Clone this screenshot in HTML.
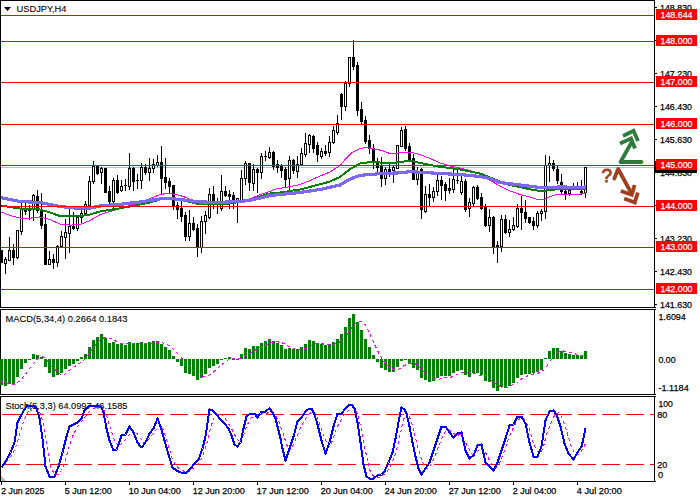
<!DOCTYPE html>
<html><head><meta charset="utf-8"><title>USDJPY,H4</title>
<style>
html,body{margin:0;padding:0;background:#fff;}
body{width:700px;height:500px;overflow:hidden;}
svg{display:block;}
text{font-family:"Liberation Sans",sans-serif;font-size:9.8px;fill:#000;stroke:#000;stroke-width:0.25px;}
.w{fill:#fff;stroke:#fff;}
</style></head><body>
<svg width="700" height="500" viewBox="0 0 700 500">
<rect width="700" height="500" fill="#fff"/>
<g shape-rendering="crispEdges">
<rect x="1" y="167" width="653" height="1" fill="#c0c0c0"/><g id="candles"><rect x="1" y="250" width="1" height="13" fill="#000"/><rect x="0" y="250" width="3" height="13" fill="#000"/><rect x="5" y="257" width="1" height="17" fill="#000"/><rect x="4" y="259" width="3" height="5" fill="#000"/><rect x="5" y="260" width="1" height="3" fill="#fff"/><rect x="9" y="237" width="1" height="24" fill="#000"/><rect x="8" y="250" width="3" height="11" fill="#000"/><rect x="9" y="251" width="1" height="9" fill="#fff"/><rect x="13" y="244" width="1" height="21" fill="#000"/><rect x="12" y="250" width="3" height="8" fill="#000"/><rect x="17" y="230" width="1" height="29" fill="#000"/><rect x="16" y="230" width="3" height="28" fill="#000"/><rect x="17" y="231" width="1" height="26" fill="#fff"/><rect x="21" y="203" width="1" height="32" fill="#000"/><rect x="20" y="208" width="3" height="24" fill="#000"/><rect x="21" y="209" width="1" height="22" fill="#fff"/><rect x="25" y="203" width="1" height="12" fill="#000"/><rect x="24" y="209" width="3" height="3" fill="#000"/><rect x="29" y="205" width="1" height="15" fill="#000"/><rect x="28" y="208" width="3" height="3" fill="#000"/><rect x="33" y="194" width="1" height="27" fill="#000"/><rect x="32" y="195" width="3" height="14" fill="#000"/><rect x="33" y="196" width="1" height="12" fill="#fff"/><rect x="37" y="190" width="1" height="23" fill="#000"/><rect x="36" y="196" width="3" height="15" fill="#000"/><rect x="41" y="193" width="1" height="36" fill="#000"/><rect x="40" y="210" width="3" height="16" fill="#000"/><rect x="45" y="214" width="1" height="51" fill="#000"/><rect x="44" y="224" width="3" height="41" fill="#000"/><rect x="49" y="251" width="1" height="14" fill="#000"/><rect x="48" y="259" width="3" height="6" fill="#000"/><rect x="49" y="260" width="1" height="4" fill="#fff"/><rect x="53" y="254" width="1" height="15" fill="#000"/><rect x="52" y="259" width="3" height="4" fill="#000"/><rect x="57" y="245" width="1" height="22" fill="#000"/><rect x="56" y="246" width="3" height="17" fill="#000"/><rect x="57" y="247" width="1" height="15" fill="#fff"/><rect x="61" y="231" width="1" height="17" fill="#000"/><rect x="60" y="236" width="3" height="11" fill="#000"/><rect x="61" y="237" width="1" height="9" fill="#fff"/><rect x="65" y="219" width="1" height="40" fill="#000"/><rect x="64" y="232" width="3" height="6" fill="#000"/><rect x="65" y="233" width="1" height="4" fill="#fff"/><rect x="69" y="209" width="1" height="44" fill="#000"/><rect x="68" y="226" width="3" height="8" fill="#000"/><rect x="69" y="227" width="1" height="6" fill="#fff"/><rect x="73" y="212" width="1" height="18" fill="#000"/><rect x="72" y="226" width="3" height="3" fill="#000"/><rect x="77" y="217" width="1" height="14" fill="#000"/><rect x="76" y="217" width="3" height="12" fill="#000"/><rect x="77" y="218" width="1" height="10" fill="#fff"/><rect x="81" y="210" width="1" height="14" fill="#000"/><rect x="80" y="213" width="3" height="5" fill="#000"/><rect x="81" y="214" width="1" height="3" fill="#fff"/><rect x="85" y="201" width="1" height="14" fill="#000"/><rect x="84" y="204" width="3" height="10" fill="#000"/><rect x="85" y="205" width="1" height="8" fill="#fff"/><rect x="89" y="176" width="1" height="31" fill="#000"/><rect x="88" y="181" width="3" height="25" fill="#000"/><rect x="89" y="182" width="1" height="23" fill="#fff"/><rect x="93" y="161" width="1" height="23" fill="#000"/><rect x="92" y="166" width="3" height="16" fill="#000"/><rect x="93" y="167" width="1" height="14" fill="#fff"/><rect x="97" y="165" width="1" height="10" fill="#000"/><rect x="96" y="166" width="3" height="8" fill="#000"/><rect x="101" y="167" width="1" height="17" fill="#000"/><rect x="100" y="168" width="3" height="5" fill="#000"/><rect x="101" y="169" width="1" height="3" fill="#fff"/><rect x="105" y="168" width="1" height="25" fill="#000"/><rect x="104" y="168" width="3" height="25" fill="#000"/><rect x="109" y="186" width="1" height="19" fill="#000"/><rect x="108" y="191" width="3" height="11" fill="#000"/><rect x="113" y="178" width="1" height="30" fill="#000"/><rect x="112" y="180" width="3" height="22" fill="#000"/><rect x="113" y="181" width="1" height="20" fill="#fff"/><rect x="117" y="175" width="1" height="19" fill="#000"/><rect x="116" y="180" width="3" height="13" fill="#000"/><rect x="121" y="180" width="1" height="12" fill="#000"/><rect x="120" y="186" width="3" height="5" fill="#000"/><rect x="121" y="187" width="1" height="3" fill="#fff"/><rect x="125" y="179" width="1" height="12" fill="#000"/><rect x="124" y="185" width="3" height="1" fill="#000"/><rect x="129" y="153" width="1" height="37" fill="#000"/><rect x="128" y="168" width="3" height="19" fill="#000"/><rect x="129" y="169" width="1" height="17" fill="#fff"/><rect x="133" y="167" width="1" height="24" fill="#000"/><rect x="132" y="168" width="3" height="14" fill="#000"/><rect x="137" y="174" width="1" height="15" fill="#000"/><rect x="136" y="180" width="3" height="1" fill="#000"/><rect x="141" y="163" width="1" height="26" fill="#000"/><rect x="140" y="167" width="3" height="14" fill="#000"/><rect x="141" y="168" width="1" height="12" fill="#fff"/><rect x="145" y="164" width="1" height="11" fill="#000"/><rect x="144" y="167" width="3" height="6" fill="#000"/><rect x="149" y="158" width="1" height="23" fill="#000"/><rect x="148" y="168" width="3" height="5" fill="#000"/><rect x="149" y="169" width="1" height="3" fill="#fff"/><rect x="153" y="159" width="1" height="14" fill="#000"/><rect x="152" y="164" width="3" height="5" fill="#000"/><rect x="153" y="165" width="1" height="3" fill="#fff"/><rect x="157" y="155" width="1" height="12" fill="#000"/><rect x="156" y="162" width="3" height="4" fill="#000"/><rect x="157" y="163" width="1" height="2" fill="#fff"/><rect x="161" y="146" width="1" height="49" fill="#000"/><rect x="160" y="162" width="3" height="17" fill="#000"/><rect x="165" y="158" width="1" height="31" fill="#000"/><rect x="164" y="177" width="3" height="6" fill="#000"/><rect x="169" y="178" width="1" height="16" fill="#000"/><rect x="168" y="181" width="3" height="6" fill="#000"/><rect x="173" y="185" width="1" height="25" fill="#000"/><rect x="172" y="185" width="3" height="21" fill="#000"/><rect x="177" y="202" width="1" height="17" fill="#000"/><rect x="176" y="205" width="3" height="5" fill="#000"/><rect x="181" y="201" width="1" height="21" fill="#000"/><rect x="180" y="208" width="3" height="9" fill="#000"/><rect x="185" y="212" width="1" height="29" fill="#000"/><rect x="184" y="215" width="3" height="22" fill="#000"/><rect x="189" y="210" width="1" height="31" fill="#000"/><rect x="188" y="223" width="3" height="14" fill="#000"/><rect x="189" y="224" width="1" height="12" fill="#fff"/><rect x="193" y="217" width="1" height="14" fill="#000"/><rect x="192" y="223" width="3" height="7" fill="#000"/><rect x="197" y="224" width="1" height="33" fill="#000"/><rect x="196" y="228" width="3" height="20" fill="#000"/><rect x="201" y="216" width="1" height="37" fill="#000"/><rect x="200" y="221" width="3" height="27" fill="#000"/><rect x="201" y="222" width="1" height="25" fill="#fff"/><rect x="205" y="211" width="1" height="23" fill="#000"/><rect x="204" y="215" width="3" height="7" fill="#000"/><rect x="205" y="216" width="1" height="5" fill="#fff"/><rect x="209" y="188" width="1" height="31" fill="#000"/><rect x="208" y="194" width="3" height="24" fill="#000"/><rect x="209" y="195" width="1" height="22" fill="#fff"/><rect x="213" y="186" width="1" height="23" fill="#000"/><rect x="212" y="194" width="3" height="7" fill="#000"/><rect x="217" y="198" width="1" height="16" fill="#000"/><rect x="216" y="201" width="3" height="1" fill="#000"/><rect x="221" y="175" width="1" height="36" fill="#000"/><rect x="220" y="191" width="3" height="18" fill="#000"/><rect x="221" y="192" width="1" height="16" fill="#fff"/><rect x="225" y="186" width="1" height="11" fill="#000"/><rect x="224" y="191" width="3" height="5" fill="#000"/><rect x="229" y="190" width="1" height="19" fill="#000"/><rect x="228" y="194" width="3" height="3" fill="#000"/><rect x="233" y="192" width="1" height="17" fill="#000"/><rect x="232" y="195" width="3" height="6" fill="#000"/><rect x="237" y="198" width="1" height="25" fill="#000"/><rect x="236" y="198" width="3" height="3" fill="#000"/><rect x="237" y="199" width="1" height="1" fill="#fff"/><rect x="241" y="170" width="1" height="31" fill="#000"/><rect x="240" y="178" width="3" height="23" fill="#000"/><rect x="241" y="179" width="1" height="21" fill="#fff"/><rect x="245" y="161" width="1" height="24" fill="#000"/><rect x="244" y="163" width="3" height="16" fill="#000"/><rect x="245" y="164" width="1" height="14" fill="#fff"/><rect x="249" y="163" width="1" height="28" fill="#000"/><rect x="248" y="163" width="3" height="20" fill="#000"/><rect x="253" y="164" width="1" height="27" fill="#000"/><rect x="252" y="169" width="3" height="15" fill="#000"/><rect x="253" y="170" width="1" height="13" fill="#fff"/><rect x="257" y="168" width="1" height="25" fill="#000"/><rect x="256" y="169" width="3" height="4" fill="#000"/><rect x="261" y="153" width="1" height="26" fill="#000"/><rect x="260" y="156" width="3" height="17" fill="#000"/><rect x="261" y="157" width="1" height="15" fill="#fff"/><rect x="265" y="151" width="1" height="10" fill="#000"/><rect x="264" y="156" width="3" height="1" fill="#000"/><rect x="269" y="147" width="1" height="12" fill="#000"/><rect x="268" y="152" width="3" height="6" fill="#000"/><rect x="269" y="153" width="1" height="4" fill="#fff"/><rect x="273" y="151" width="1" height="19" fill="#000"/><rect x="272" y="152" width="3" height="15" fill="#000"/><rect x="277" y="160" width="1" height="13" fill="#000"/><rect x="276" y="164" width="3" height="4" fill="#000"/><rect x="281" y="164" width="1" height="14" fill="#000"/><rect x="280" y="166" width="3" height="5" fill="#000"/><rect x="285" y="167" width="1" height="20" fill="#000"/><rect x="284" y="169" width="3" height="11" fill="#000"/><rect x="289" y="156" width="1" height="36" fill="#000"/><rect x="288" y="160" width="3" height="19" fill="#000"/><rect x="289" y="161" width="1" height="17" fill="#fff"/><rect x="293" y="159" width="1" height="15" fill="#000"/><rect x="292" y="160" width="3" height="11" fill="#000"/><rect x="297" y="156" width="1" height="22" fill="#000"/><rect x="296" y="164" width="3" height="8" fill="#000"/><rect x="297" y="165" width="1" height="6" fill="#fff"/><rect x="301" y="148" width="1" height="18" fill="#000"/><rect x="300" y="153" width="3" height="12" fill="#000"/><rect x="301" y="154" width="1" height="10" fill="#fff"/><rect x="305" y="133" width="1" height="24" fill="#000"/><rect x="304" y="143" width="3" height="12" fill="#000"/><rect x="305" y="144" width="1" height="10" fill="#fff"/><rect x="309" y="134" width="1" height="19" fill="#000"/><rect x="308" y="135" width="3" height="10" fill="#000"/><rect x="309" y="136" width="1" height="8" fill="#fff"/><rect x="313" y="135" width="1" height="18" fill="#000"/><rect x="312" y="136" width="3" height="13" fill="#000"/><rect x="317" y="142" width="1" height="20" fill="#000"/><rect x="316" y="145" width="3" height="10" fill="#000"/><rect x="321" y="148" width="1" height="11" fill="#000"/><rect x="320" y="151" width="3" height="6" fill="#000"/><rect x="321" y="152" width="1" height="4" fill="#fff"/><rect x="325" y="145" width="1" height="11" fill="#000"/><rect x="324" y="151" width="3" height="3" fill="#000"/><rect x="329" y="136" width="1" height="21" fill="#000"/><rect x="328" y="142" width="3" height="11" fill="#000"/><rect x="329" y="143" width="1" height="9" fill="#fff"/><rect x="333" y="126" width="1" height="18" fill="#000"/><rect x="332" y="130" width="3" height="13" fill="#000"/><rect x="333" y="131" width="1" height="11" fill="#fff"/><rect x="337" y="115" width="1" height="20" fill="#000"/><rect x="336" y="123" width="3" height="10" fill="#000"/><rect x="337" y="124" width="1" height="8" fill="#fff"/><rect x="341" y="93" width="1" height="27" fill="#000"/><rect x="340" y="94" width="3" height="13" fill="#000"/><rect x="345" y="81" width="1" height="30" fill="#000"/><rect x="344" y="83" width="3" height="24" fill="#000"/><rect x="345" y="84" width="1" height="22" fill="#fff"/><rect x="349" y="57" width="1" height="30" fill="#000"/><rect x="348" y="57" width="3" height="27" fill="#000"/><rect x="349" y="58" width="1" height="25" fill="#fff"/><rect x="353" y="40" width="1" height="30" fill="#000"/><rect x="352" y="57" width="3" height="10" fill="#000"/><rect x="357" y="62" width="1" height="54" fill="#000"/><rect x="356" y="65" width="3" height="46" fill="#000"/><rect x="361" y="102" width="1" height="23" fill="#000"/><rect x="360" y="109" width="3" height="13" fill="#000"/><rect x="365" y="116" width="1" height="28" fill="#000"/><rect x="364" y="120" width="3" height="22" fill="#000"/><rect x="369" y="135" width="1" height="19" fill="#000"/><rect x="368" y="140" width="3" height="9" fill="#000"/><rect x="373" y="144" width="1" height="25" fill="#000"/><rect x="372" y="148" width="3" height="15" fill="#000"/><rect x="377" y="158" width="1" height="16" fill="#000"/><rect x="376" y="161" width="3" height="7" fill="#000"/><rect x="381" y="157" width="1" height="30" fill="#000"/><rect x="380" y="166" width="3" height="13" fill="#000"/><rect x="385" y="167" width="1" height="18" fill="#000"/><rect x="384" y="169" width="3" height="10" fill="#000"/><rect x="385" y="170" width="1" height="8" fill="#fff"/><rect x="389" y="164" width="1" height="13" fill="#000"/><rect x="388" y="169" width="3" height="3" fill="#000"/><rect x="393" y="166" width="1" height="17" fill="#000"/><rect x="392" y="167" width="3" height="4" fill="#000"/><rect x="393" y="168" width="1" height="2" fill="#fff"/><rect x="397" y="145" width="1" height="24" fill="#000"/><rect x="396" y="145" width="3" height="24" fill="#000"/><rect x="397" y="146" width="1" height="22" fill="#fff"/><rect x="401" y="127" width="1" height="20" fill="#000"/><rect x="400" y="130" width="3" height="17" fill="#000"/><rect x="401" y="131" width="1" height="15" fill="#fff"/><rect x="405" y="126" width="1" height="25" fill="#000"/><rect x="404" y="129" width="3" height="20" fill="#000"/><rect x="409" y="143" width="1" height="18" fill="#000"/><rect x="408" y="146" width="3" height="14" fill="#000"/><rect x="413" y="154" width="1" height="26" fill="#000"/><rect x="412" y="158" width="3" height="22" fill="#000"/><rect x="417" y="167" width="1" height="18" fill="#000"/><rect x="416" y="173" width="3" height="7" fill="#000"/><rect x="417" y="174" width="1" height="5" fill="#fff"/><rect x="421" y="168" width="1" height="51" fill="#000"/><rect x="420" y="169" width="3" height="41" fill="#000"/><rect x="425" y="186" width="1" height="27" fill="#000"/><rect x="424" y="194" width="3" height="18" fill="#000"/><rect x="425" y="195" width="1" height="16" fill="#fff"/><rect x="429" y="184" width="1" height="22" fill="#000"/><rect x="428" y="194" width="3" height="4" fill="#000"/><rect x="433" y="187" width="1" height="15" fill="#000"/><rect x="432" y="191" width="3" height="7" fill="#000"/><rect x="433" y="192" width="1" height="5" fill="#fff"/><rect x="437" y="175" width="1" height="21" fill="#000"/><rect x="436" y="180" width="3" height="12" fill="#000"/><rect x="437" y="181" width="1" height="10" fill="#fff"/><rect x="441" y="176" width="1" height="24" fill="#000"/><rect x="440" y="180" width="3" height="6" fill="#000"/><rect x="445" y="182" width="1" height="19" fill="#000"/><rect x="444" y="184" width="3" height="7" fill="#000"/><rect x="449" y="178" width="1" height="16" fill="#000"/><rect x="448" y="188" width="3" height="3" fill="#000"/><rect x="453" y="168" width="1" height="25" fill="#000"/><rect x="452" y="179" width="3" height="11" fill="#000"/><rect x="453" y="180" width="1" height="9" fill="#fff"/><rect x="457" y="169" width="1" height="15" fill="#000"/><rect x="456" y="180" width="3" height="1" fill="#000"/><rect x="461" y="176" width="1" height="19" fill="#000"/><rect x="460" y="181" width="3" height="12" fill="#000"/><rect x="461" y="182" width="1" height="10" fill="#fff"/><rect x="465" y="179" width="1" height="33" fill="#000"/><rect x="464" y="181" width="3" height="29" fill="#000"/><rect x="469" y="198" width="1" height="19" fill="#000"/><rect x="468" y="202" width="3" height="7" fill="#000"/><rect x="469" y="203" width="1" height="5" fill="#fff"/><rect x="473" y="186" width="1" height="20" fill="#000"/><rect x="472" y="187" width="3" height="17" fill="#000"/><rect x="473" y="188" width="1" height="15" fill="#fff"/><rect x="477" y="185" width="1" height="15" fill="#000"/><rect x="476" y="187" width="3" height="12" fill="#000"/><rect x="481" y="193" width="1" height="17" fill="#000"/><rect x="480" y="197" width="3" height="12" fill="#000"/><rect x="485" y="204" width="1" height="23" fill="#000"/><rect x="484" y="206" width="3" height="20" fill="#000"/><rect x="489" y="209" width="1" height="23" fill="#000"/><rect x="488" y="217" width="3" height="9" fill="#000"/><rect x="489" y="218" width="1" height="7" fill="#fff"/><rect x="493" y="216" width="1" height="38" fill="#000"/><rect x="492" y="217" width="3" height="31" fill="#000"/><rect x="497" y="241" width="1" height="22" fill="#000"/><rect x="496" y="245" width="3" height="3" fill="#000"/><rect x="501" y="215" width="1" height="37" fill="#000"/><rect x="500" y="219" width="3" height="28" fill="#000"/><rect x="501" y="220" width="1" height="26" fill="#fff"/><rect x="505" y="215" width="1" height="19" fill="#000"/><rect x="504" y="219" width="3" height="14" fill="#000"/><rect x="509" y="220" width="1" height="17" fill="#000"/><rect x="508" y="229" width="3" height="4" fill="#000"/><rect x="509" y="230" width="1" height="2" fill="#fff"/><rect x="513" y="217" width="1" height="14" fill="#000"/><rect x="512" y="225" width="3" height="5" fill="#000"/><rect x="513" y="226" width="1" height="3" fill="#fff"/><rect x="517" y="204" width="1" height="24" fill="#000"/><rect x="516" y="208" width="3" height="19" fill="#000"/><rect x="517" y="209" width="1" height="17" fill="#fff"/><rect x="521" y="196" width="1" height="34" fill="#000"/><rect x="520" y="208" width="3" height="5" fill="#000"/><rect x="525" y="200" width="1" height="23" fill="#000"/><rect x="524" y="212" width="3" height="7" fill="#000"/><rect x="529" y="217" width="1" height="7" fill="#000"/><rect x="528" y="217" width="3" height="6" fill="#000"/><rect x="533" y="217" width="1" height="13" fill="#000"/><rect x="532" y="221" width="3" height="5" fill="#000"/><rect x="537" y="211" width="1" height="17" fill="#000"/><rect x="536" y="213" width="3" height="13" fill="#000"/><rect x="537" y="214" width="1" height="11" fill="#fff"/><rect x="541" y="209" width="1" height="12" fill="#000"/><rect x="540" y="211" width="3" height="3" fill="#000"/><rect x="541" y="212" width="1" height="1" fill="#fff"/><rect x="545" y="155" width="1" height="64" fill="#000"/><rect x="544" y="165" width="3" height="47" fill="#000"/><rect x="545" y="166" width="1" height="45" fill="#fff"/><rect x="549" y="156" width="1" height="26" fill="#000"/><rect x="548" y="163" width="3" height="3" fill="#000"/><rect x="549" y="164" width="1" height="1" fill="#fff"/><rect x="553" y="160" width="1" height="11" fill="#000"/><rect x="552" y="163" width="3" height="6" fill="#000"/><rect x="557" y="166" width="1" height="18" fill="#000"/><rect x="556" y="169" width="3" height="12" fill="#000"/><rect x="561" y="174" width="1" height="20" fill="#000"/><rect x="560" y="182" width="3" height="10" fill="#000"/><rect x="565" y="187" width="1" height="13" fill="#000"/><rect x="564" y="191" width="3" height="3" fill="#000"/><rect x="569" y="188" width="1" height="8" fill="#000"/><rect x="568" y="190" width="3" height="4" fill="#000"/><rect x="569" y="191" width="1" height="2" fill="#fff"/><rect x="573" y="183" width="1" height="7" fill="#000"/><rect x="572" y="188" width="3" height="1" fill="#000"/><rect x="577" y="182" width="1" height="8" fill="#000"/><rect x="576" y="188" width="3" height="1" fill="#000"/><rect x="581" y="180" width="1" height="15" fill="#000"/><rect x="580" y="191" width="3" height="3" fill="#000"/><rect x="585" y="167" width="1" height="31" fill="#000"/><rect x="584" y="167" width="3" height="26" fill="#000"/><rect x="585" y="168" width="1" height="24" fill="#fff"/></g>
<polyline points="0,211.5 10,215.5 20,218.1 30,218.1 40,216.9 50,219.5 60,224.1 70,225.1 80,224.5 90,220.5 100,214.7 110,211.5 120,208.5 130,205.5 140,203 150,198.5 160,194.7 166,193.5 174,194.1 180,195.5 186,197.5 190,199.5 194,200.8 200,202.7 210,203 230,202.8 244,201 250,198.7 260,194.7 270,191.5 275,189.1 285,187.5 290,186.7 300,184.5 310,180.5 320,176 330,172 340,165.5 346,158.5 352,152.5 360,148.5 366,147.5 380,150.1 390,153.5 400,152.9 410,152.1 420,154.5 430,158.5 440,162.9 452,166.5 460,167.9 470,170.5 480,174.5 490,180.5 500,186 510,191 520,194.5 530,197 536,199 541,200 544,199.5 550,196.5 555,195 560,194.9 580,194.1 586,192.9" fill="none" stroke="#ff00ff" stroke-width="1" /><polyline points="0,205.5 20,208.5 40,209.5 50,212.5 60,216.1 70,216.5 80,216.3 90,214.5 100,211.5 120,208.3 140,204.5 150,202.5 160,199.4 170,198.9 180,199.8 190,202 196,203.5 200,203.8 220,203.7 230,203.5 236,202.5 240,202 250,200 260,196.5 270,193.5 280,192.5 300,189.5 320,184.3 330,181.5 340,177 350,169.1 360,163.5 370,162.1 380,162.5 390,163.1 400,162.1 410,160.5 420,162.9 430,164.9 440,166.9 450,167.9 460,169.5 470,171.5 480,173.5 490,177.5 500,181.5 510,185 520,187 530,189.3 540,191.1 550,190.1 560,188.9 580,189.5 586,189.3" fill="none" stroke="#008000" stroke-width="2" /><polyline points="0,197.5 20,201.5 40,202.5 60,206.5 80,208.5 90,208 100,206 120,204.3 140,202 160,198.9 170,198.5 180,199.5 200,202 220,202.3 240,201.5 250,200.3 260,198.1 270,195.5 280,194.5 300,192.5 320,189.5 340,185 350,179.1 360,175.5 366,174.8 380,173.7 400,172.8 410,171.7 420,172.2 440,173.5 460,174.5 480,176.5 490,178.5 500,182.5 520,185 540,187.5 550,187.5 560,186.9 580,187.5 586,186.9" fill="none" stroke="#7b68ee" stroke-width="3.2" />
<rect x="1" y="15" width="653" height="1" fill="#ff0000"/><rect x="1" y="41" width="653" height="1" fill="#ff0000"/><rect x="1" y="82" width="653" height="1" fill="#ff0000"/><rect x="1" y="124" width="653" height="1" fill="#ff0000"/><rect x="1" y="165" width="653" height="1" fill="#ff0000"/><rect x="1" y="206" width="653" height="1" fill="#ff0000"/><rect x="1" y="247" width="653" height="1" fill="#ff0000"/><rect x="1" y="289" width="653" height="1" fill="#ff0000"/>
<rect x="0" y="0" width="1" height="482" fill="#000"/><rect x="0" y="0" width="655" height="1" fill="#000"/><rect x="654" y="0" width="1" height="482" fill="#000"/><rect x="0" y="307" width="656" height="1" fill="#000"/><rect x="0" y="308" width="656" height="1" fill="#fff"/><rect x="0" y="309" width="656" height="1" fill="#000"/><rect x="0" y="394" width="656" height="1" fill="#000"/><rect x="0" y="395" width="656" height="1" fill="#fff"/><rect x="0" y="396" width="656" height="1" fill="#000"/><rect x="0" y="481" width="656" height="1" fill="#000"/>
<rect x="655" y="7" width="2" height="1" fill="#000"/><rect x="655" y="40" width="2" height="1" fill="#000"/><rect x="655" y="73" width="2" height="1" fill="#000"/><rect x="655" y="106" width="2" height="1" fill="#000"/><rect x="655" y="139" width="2" height="1" fill="#000"/><rect x="655" y="172" width="2" height="1" fill="#000"/><rect x="655" y="205" width="2" height="1" fill="#000"/><rect x="655" y="238" width="2" height="1" fill="#000"/><rect x="655" y="271" width="2" height="1" fill="#000"/><rect x="655" y="304" width="2" height="1" fill="#000"/><rect x="1" y="482" width="1" height="3" fill="#000"/><rect x="65" y="482" width="1" height="3" fill="#000"/><rect x="129" y="482" width="1" height="3" fill="#000"/><rect x="193" y="482" width="1" height="3" fill="#000"/><rect x="257" y="482" width="1" height="3" fill="#000"/><rect x="321" y="482" width="1" height="3" fill="#000"/><rect x="385" y="482" width="1" height="3" fill="#000"/><rect x="449" y="482" width="1" height="3" fill="#000"/><rect x="513" y="482" width="1" height="3" fill="#000"/><rect x="577" y="482" width="1" height="3" fill="#000"/>
</g><text x="5.5" y="322" textLength="122" lengthAdjust="spacingAndGlyphs" style="font-size:9.6px;stroke-width:0.1px">MACD(5,34,4) 0.2664 0.1843</text><text x="5.5" y="409" textLength="122" lengthAdjust="spacingAndGlyphs" style="font-size:9.6px;stroke-width:0.1px">Stoch(5,3,3) 64.0997 46.1585</text><g shape-rendering="crispEdges"><rect x="0" y="359" width="3" height="26" fill="#008000"/><rect x="4" y="359" width="3" height="27" fill="#008000"/><rect x="8" y="359" width="3" height="25" fill="#008000"/><rect x="12" y="359" width="3" height="25" fill="#008000"/><rect x="16" y="359" width="3" height="18" fill="#008000"/><rect x="20" y="359" width="3" height="10" fill="#008000"/><rect x="24" y="359" width="3" height="4" fill="#008000"/><rect x="28" y="359" width="3" height="1" fill="#008000"/><rect x="32" y="354" width="3" height="5" fill="#008000"/><rect x="36" y="355" width="3" height="4" fill="#008000"/><rect x="40" y="357" width="3" height="2" fill="#008000"/><rect x="44" y="359" width="3" height="8" fill="#008000"/><rect x="48" y="359" width="3" height="14" fill="#008000"/><rect x="52" y="359" width="3" height="18" fill="#008000"/><rect x="56" y="359" width="3" height="16" fill="#008000"/><rect x="60" y="359" width="3" height="14" fill="#008000"/><rect x="64" y="359" width="3" height="10" fill="#008000"/><rect x="68" y="359" width="3" height="7" fill="#008000"/><rect x="72" y="359" width="3" height="5" fill="#008000"/><rect x="76" y="359" width="3" height="2" fill="#008000"/><rect x="80" y="357" width="3" height="2" fill="#008000"/><rect x="84" y="354" width="3" height="5" fill="#008000"/><rect x="88" y="347" width="3" height="12" fill="#008000"/><rect x="92" y="340" width="3" height="19" fill="#008000"/><rect x="96" y="337" width="3" height="22" fill="#008000"/><rect x="100" y="334" width="3" height="25" fill="#008000"/><rect x="104" y="338" width="3" height="21" fill="#008000"/><rect x="108" y="343" width="3" height="16" fill="#008000"/><rect x="112" y="342" width="3" height="17" fill="#008000"/><rect x="116" y="344" width="3" height="15" fill="#008000"/><rect x="120" y="344" width="3" height="15" fill="#008000"/><rect x="124" y="345" width="3" height="14" fill="#008000"/><rect x="128" y="342" width="3" height="17" fill="#008000"/><rect x="132" y="343" width="3" height="16" fill="#008000"/><rect x="136" y="343" width="3" height="16" fill="#008000"/><rect x="140" y="342" width="3" height="17" fill="#008000"/><rect x="144" y="343" width="3" height="16" fill="#008000"/><rect x="148" y="342" width="3" height="17" fill="#008000"/><rect x="152" y="341" width="3" height="18" fill="#008000"/><rect x="156" y="341" width="3" height="18" fill="#008000"/><rect x="160" y="344" width="3" height="15" fill="#008000"/><rect x="164" y="347" width="3" height="12" fill="#008000"/><rect x="168" y="350" width="3" height="9" fill="#008000"/><rect x="172" y="356" width="3" height="3" fill="#008000"/><rect x="176" y="359" width="3" height="3" fill="#008000"/><rect x="180" y="359" width="3" height="7" fill="#008000"/><rect x="184" y="359" width="3" height="14" fill="#008000"/><rect x="188" y="359" width="3" height="15" fill="#008000"/><rect x="192" y="359" width="3" height="17" fill="#008000"/><rect x="196" y="359" width="3" height="21" fill="#008000"/><rect x="200" y="359" width="3" height="19" fill="#008000"/><rect x="204" y="359" width="3" height="15" fill="#008000"/><rect x="208" y="359" width="3" height="9" fill="#008000"/><rect x="212" y="359" width="3" height="7" fill="#008000"/><rect x="216" y="359" width="3" height="5" fill="#008000"/><rect x="220" y="359" width="3" height="1" fill="#008000"/><rect x="224" y="358" width="3" height="1" fill="#008000"/><rect x="228" y="357" width="3" height="2" fill="#008000"/><rect x="232" y="359" width="3" height="1" fill="#008000"/><rect x="236" y="359" width="3" height="1" fill="#008000"/><rect x="240" y="354" width="3" height="5" fill="#008000"/><rect x="244" y="348" width="3" height="11" fill="#008000"/><rect x="248" y="349" width="3" height="10" fill="#008000"/><rect x="252" y="346" width="3" height="13" fill="#008000"/><rect x="256" y="346" width="3" height="13" fill="#008000"/><rect x="260" y="343" width="3" height="16" fill="#008000"/><rect x="264" y="341" width="3" height="18" fill="#008000"/><rect x="268" y="339" width="3" height="20" fill="#008000"/><rect x="272" y="341" width="3" height="18" fill="#008000"/><rect x="276" y="343" width="3" height="16" fill="#008000"/><rect x="280" y="345" width="3" height="14" fill="#008000"/><rect x="284" y="349" width="3" height="10" fill="#008000"/><rect x="288" y="348" width="3" height="11" fill="#008000"/><rect x="292" y="349" width="3" height="10" fill="#008000"/><rect x="296" y="349" width="3" height="10" fill="#008000"/><rect x="300" y="347" width="3" height="12" fill="#008000"/><rect x="304" y="344" width="3" height="15" fill="#008000"/><rect x="308" y="340" width="3" height="19" fill="#008000"/><rect x="312" y="341" width="3" height="18" fill="#008000"/><rect x="316" y="343" width="3" height="16" fill="#008000"/><rect x="320" y="344" width="3" height="15" fill="#008000"/><rect x="324" y="345" width="3" height="14" fill="#008000"/><rect x="328" y="344" width="3" height="15" fill="#008000"/><rect x="332" y="342" width="3" height="17" fill="#008000"/><rect x="336" y="339" width="3" height="20" fill="#008000"/><rect x="340" y="334" width="3" height="25" fill="#008000"/><rect x="344" y="327" width="3" height="32" fill="#008000"/><rect x="348" y="318" width="3" height="41" fill="#008000"/><rect x="352" y="314" width="3" height="45" fill="#008000"/><rect x="356" y="322" width="3" height="37" fill="#008000"/><rect x="360" y="330" width="3" height="29" fill="#008000"/><rect x="364" y="339" width="3" height="20" fill="#008000"/><rect x="368" y="347" width="3" height="12" fill="#008000"/><rect x="372" y="355" width="3" height="4" fill="#008000"/><rect x="376" y="359" width="3" height="3" fill="#008000"/><rect x="380" y="359" width="3" height="9" fill="#008000"/><rect x="384" y="359" width="3" height="11" fill="#008000"/><rect x="388" y="359" width="3" height="13" fill="#008000"/><rect x="392" y="359" width="3" height="13" fill="#008000"/><rect x="396" y="359" width="3" height="8" fill="#008000"/><rect x="400" y="359" width="3" height="2" fill="#008000"/><rect x="404" y="359" width="3" height="1" fill="#008000"/><rect x="408" y="359" width="3" height="4" fill="#008000"/><rect x="412" y="359" width="3" height="9" fill="#008000"/><rect x="416" y="359" width="3" height="11" fill="#008000"/><rect x="420" y="359" width="3" height="19" fill="#008000"/><rect x="424" y="359" width="3" height="21" fill="#008000"/><rect x="428" y="359" width="3" height="23" fill="#008000"/><rect x="432" y="359" width="3" height="22" fill="#008000"/><rect x="436" y="359" width="3" height="19" fill="#008000"/><rect x="440" y="359" width="3" height="17" fill="#008000"/><rect x="444" y="359" width="3" height="17" fill="#008000"/><rect x="448" y="359" width="3" height="17" fill="#008000"/><rect x="452" y="359" width="3" height="14" fill="#008000"/><rect x="456" y="359" width="3" height="12" fill="#008000"/><rect x="460" y="359" width="3" height="11" fill="#008000"/><rect x="464" y="359" width="3" height="16" fill="#008000"/><rect x="468" y="359" width="3" height="18" fill="#008000"/><rect x="472" y="359" width="3" height="14" fill="#008000"/><rect x="476" y="359" width="3" height="14" fill="#008000"/><rect x="480" y="359" width="3" height="16" fill="#008000"/><rect x="484" y="359" width="3" height="22" fill="#008000"/><rect x="488" y="359" width="3" height="23" fill="#008000"/><rect x="492" y="359" width="3" height="29" fill="#008000"/><rect x="496" y="359" width="3" height="32" fill="#008000"/><rect x="500" y="359" width="3" height="28" fill="#008000"/><rect x="504" y="359" width="3" height="29" fill="#008000"/><rect x="508" y="359" width="3" height="27" fill="#008000"/><rect x="512" y="359" width="3" height="24" fill="#008000"/><rect x="516" y="359" width="3" height="19" fill="#008000"/><rect x="520" y="359" width="3" height="16" fill="#008000"/><rect x="524" y="359" width="3" height="15" fill="#008000"/><rect x="528" y="359" width="3" height="15" fill="#008000"/><rect x="532" y="359" width="3" height="14" fill="#008000"/><rect x="536" y="359" width="3" height="13" fill="#008000"/><rect x="540" y="359" width="3" height="11" fill="#008000"/><rect x="544" y="358" width="3" height="1" fill="#008000"/><rect x="548" y="351" width="3" height="8" fill="#008000"/><rect x="552" y="348" width="3" height="11" fill="#008000"/><rect x="556" y="348" width="3" height="11" fill="#008000"/><rect x="560" y="351" width="3" height="8" fill="#008000"/><rect x="564" y="353" width="3" height="6" fill="#008000"/><rect x="568" y="354" width="3" height="5" fill="#008000"/><rect x="572" y="355" width="3" height="4" fill="#008000"/><rect x="576" y="355" width="3" height="4" fill="#008000"/><rect x="580" y="356" width="3" height="3" fill="#008000"/><rect x="584" y="351" width="3" height="8" fill="#008000"/>
<polyline points="0.5,381.5 10.5,384.5 14.5,384.5 20.5,380.5 30.5,367.5 36.5,359.5 42.5,356.5 46.5,359.5 50.5,365.5 60.5,374.5 64.5,374.5 70.5,369.5 80.5,362.5 84.5,359.5 90.5,351.5 96.5,343.5 100.5,339.5 104.5,337.5 110.5,338.5 116.5,341.5 120.5,343.5 130.5,343.5 140.5,343.5 150.5,343.5 160.5,342.5 165.5,343.5 170.5,346.5 176.5,352.5 180.5,356.5 184.5,361.5 190.5,367.5 195.5,372.5 198.5,375.5 204.5,376.5 210.5,374.5 216.5,369.5 220.5,365.5 224.5,362.5 228.5,359.5 234.5,358.5 240.5,358.5 244.5,356.5 250.5,352.5 256.5,349.5 260.5,347.5 266.5,344.5 270.5,342.5 276.5,341.5 280.5,342.5 284.5,343.5 290.5,347.5 296.5,349.5 300.5,349.5 306.5,348.5 310.5,345.5 316.5,343.5 320.5,343.5 326.5,344.5 332.5,344.5 336.5,343.5 340.5,341.5 344.5,338.5 348.5,332.5 352.5,326.5 356.5,322.5 360.5,321.5 363.5,322.5 366.5,326.5 370.5,335.5 374.5,344.5 378.5,352.5 382.5,359.5 386.5,364.5 390.5,368.5 394.5,369.5 398.5,369.5 402.5,366.5 406.5,364.5 410.5,363.5 414.5,363.5 418.5,365.5 420.5,368.5 426.5,374.5 432.5,378.5 438.5,379.5 444.5,377.5 450.5,377.5 456.5,374.5 462.5,372.5 468.5,372.5 474.5,373.5 480.5,375.5 486.5,375.5 490.5,379.5 494.5,382.5 498.5,385.5 502.5,387.5 506.5,387.5 510.5,385.5 516.5,383.5 520.5,379.5 526.5,376.5 530.5,374.5 536.5,373.5 540.5,372.5 544.5,369.5 548.5,363.5 552.5,357.5 556.5,353.5 560.5,350.5 566.5,351.5 570.5,352.5 574.5,353.5 578.5,355.5 582.5,355.5 585.5,353.5" fill="none" stroke="#ff00ff" stroke-width="1" stroke-dasharray="3 3"/>
<rect x="2" y="414" width="18" height="1" fill="#ff0000"/><rect x="26" y="414" width="18" height="1" fill="#ff0000"/><rect x="50" y="414" width="18" height="1" fill="#ff0000"/><rect x="74" y="414" width="18" height="1" fill="#ff0000"/><rect x="98" y="414" width="18" height="1" fill="#ff0000"/><rect x="122" y="414" width="18" height="1" fill="#ff0000"/><rect x="146" y="414" width="18" height="1" fill="#ff0000"/><rect x="170" y="414" width="18" height="1" fill="#ff0000"/><rect x="194" y="414" width="18" height="1" fill="#ff0000"/><rect x="218" y="414" width="18" height="1" fill="#ff0000"/><rect x="242" y="414" width="18" height="1" fill="#ff0000"/><rect x="266" y="414" width="18" height="1" fill="#ff0000"/><rect x="290" y="414" width="18" height="1" fill="#ff0000"/><rect x="314" y="414" width="18" height="1" fill="#ff0000"/><rect x="338" y="414" width="18" height="1" fill="#ff0000"/><rect x="362" y="414" width="18" height="1" fill="#ff0000"/><rect x="386" y="414" width="18" height="1" fill="#ff0000"/><rect x="410" y="414" width="18" height="1" fill="#ff0000"/><rect x="434" y="414" width="18" height="1" fill="#ff0000"/><rect x="458" y="414" width="18" height="1" fill="#ff0000"/><rect x="482" y="414" width="18" height="1" fill="#ff0000"/><rect x="506" y="414" width="18" height="1" fill="#ff0000"/><rect x="530" y="414" width="18" height="1" fill="#ff0000"/><rect x="554" y="414" width="18" height="1" fill="#ff0000"/><rect x="578" y="414" width="18" height="1" fill="#ff0000"/><rect x="602" y="414" width="18" height="1" fill="#ff0000"/><rect x="626" y="414" width="18" height="1" fill="#ff0000"/><rect x="650" y="414" width="4" height="1" fill="#ff0000"/><rect x="2" y="464" width="18" height="1" fill="#ff0000"/><rect x="26" y="464" width="18" height="1" fill="#ff0000"/><rect x="50" y="464" width="18" height="1" fill="#ff0000"/><rect x="74" y="464" width="18" height="1" fill="#ff0000"/><rect x="98" y="464" width="18" height="1" fill="#ff0000"/><rect x="122" y="464" width="18" height="1" fill="#ff0000"/><rect x="146" y="464" width="18" height="1" fill="#ff0000"/><rect x="170" y="464" width="18" height="1" fill="#ff0000"/><rect x="194" y="464" width="18" height="1" fill="#ff0000"/><rect x="218" y="464" width="18" height="1" fill="#ff0000"/><rect x="242" y="464" width="18" height="1" fill="#ff0000"/><rect x="266" y="464" width="18" height="1" fill="#ff0000"/><rect x="290" y="464" width="18" height="1" fill="#ff0000"/><rect x="314" y="464" width="18" height="1" fill="#ff0000"/><rect x="338" y="464" width="18" height="1" fill="#ff0000"/><rect x="362" y="464" width="18" height="1" fill="#ff0000"/><rect x="386" y="464" width="18" height="1" fill="#ff0000"/><rect x="410" y="464" width="18" height="1" fill="#ff0000"/><rect x="434" y="464" width="18" height="1" fill="#ff0000"/><rect x="458" y="464" width="18" height="1" fill="#ff0000"/><rect x="482" y="464" width="18" height="1" fill="#ff0000"/><rect x="506" y="464" width="18" height="1" fill="#ff0000"/><rect x="530" y="464" width="18" height="1" fill="#ff0000"/><rect x="554" y="464" width="18" height="1" fill="#ff0000"/><rect x="578" y="464" width="18" height="1" fill="#ff0000"/><rect x="602" y="464" width="18" height="1" fill="#ff0000"/><rect x="626" y="464" width="18" height="1" fill="#ff0000"/><rect x="650" y="464" width="4" height="1" fill="#ff0000"/><polyline points="1.5,466.5 8.5,459.5 14.5,450.5 18.5,438.5 22.5,424.5 26.5,414.5 30.5,408.5 35.5,406.5 39.5,411.5 42.5,420.5 46.5,442.5 50.5,466.5 54.5,474.5 58.5,474.5 61.5,470.5 64.5,462.5 68.5,448.5 72.5,436.5 76.5,428.5 80.5,422.5 85.5,416.5 90.5,410.5 95.5,407.5 100.5,407.5 104.5,410.5 107.5,418.5 110.5,428.5 114.5,440.5 118.5,446.5 122.5,442.5 126.5,438.5 130.5,432.5 134.5,430.5 138.5,435.5 140.5,438.5 144.5,443.5 148.5,439.5 152.5,434.5 156.5,429.5 160.5,424.5 163.5,430.5 167.5,442.5 171.5,456.5 175.5,465.5 180.5,469.5 186.5,472.5 190.5,470.5 194.5,467.5 198.5,463.5 202.5,456.5 206.5,444.5 210.5,428.5 213.5,418.5 216.5,414.5 220.5,413.5 224.5,417.5 228.5,423.5 232.5,430.5 236.5,438.5 240.5,442.5 243.5,435.5 246.5,426.5 250.5,418.5 254.5,415.5 258.5,415.5 262.5,413.5 266.5,413.5 270.5,411.5 274.5,413.5 278.5,420.5 280.5,426.5 283.5,434.5 286.5,444.5 289.5,450.5 292.5,446.5 296.5,437.5 300.5,427.5 304.5,420.5 308.5,414.5 312.5,411.5 315.5,413.5 318.5,420.5 322.5,432.5 326.5,442.5 329.5,446.5 332.5,440.5 336.5,428.5 340.5,420.5 344.5,414.5 348.5,410.5 352.5,407.5 355.5,409.5 358.5,416.5 361.5,430.5 364.5,446.5 367.5,460.5 370.5,472.5 374.5,477.5 378.5,477.5 382.5,475.5 386.5,472.5 390.5,466.5 394.5,456.5 398.5,442.5 401.5,428.5 404.5,416.5 407.5,413.5 410.5,419.5 413.5,428.5 416.5,442.5 420.5,456.5 424.5,467.5 428.5,468.5 432.5,461.5 436.5,452.5 440.5,441.5 444.5,432.5 448.5,429.5 452.5,432.5 456.5,435.5 460.5,434.5 464.5,440.5 468.5,448.5 472.5,454.5 476.5,452.5 480.5,448.5 484.5,450.5 488.5,458.5 492.5,465.5 496.5,467.5 500.5,461.5 504.5,450.5 508.5,438.5 512.5,429.5 516.5,422.5 520.5,417.5 524.5,419.5 528.5,426.5 532.5,440.5 536.5,450.5 540.5,453.5 543.5,446.5 546.5,434.5 550.5,424.5 554.5,415.5 558.5,412.5 562.5,418.5 566.5,430.5 570.5,444.5 574.5,453.5 578.5,454.5 582.5,449.5 585.5,443.5" fill="none" stroke="#ff00ff" stroke-width="1" stroke-dasharray="3 3"/><polyline points="1.5,467.5 4.5,463.5 10.5,452.5 14.5,442.5 17.5,422.5 20.5,416.5 24.5,409.5 27.5,405.5 33.5,405.5 36.5,408.5 39.5,418.5 42.5,438.5 45.5,466.5 49.5,476.5 54.5,476.5 58.5,466.5 62.5,452.5 66.5,436.5 69.5,426.5 73.5,424.5 77.5,422.5 81.5,418.5 84.5,410.5 88.5,406.5 92.5,405.5 97.5,405.5 101.5,407.5 103.5,412.5 106.5,428.5 109.5,440.5 113.5,450.5 116.5,449.5 118.5,444.5 121.5,435.5 125.5,434.5 129.5,426.5 133.5,432.5 137.5,442.5 140.5,446.5 142.5,446.5 146.5,440.5 149.5,433.5 153.5,428.5 157.5,418.5 160.5,426.5 164.5,440.5 168.5,454.5 172.5,467.5 176.5,470.5 180.5,472.5 186.5,472.5 190.5,468.5 194.5,463.5 198.5,459.5 202.5,448.5 205.5,436.5 209.5,409.5 212.5,410.5 216.5,414.5 220.5,419.5 224.5,423.5 228.5,428.5 231.5,435.5 234.5,444.5 237.5,446.5 240.5,442.5 243.5,428.5 246.5,416.5 250.5,413.5 254.5,413.5 257.5,417.5 260.5,413.5 261.5,411.5 265.5,411.5 269.5,408.5 272.5,412.5 275.5,418.5 278.5,430.5 280.5,438.5 282.5,448.5 285.5,460.5 289.5,448.5 293.5,436.5 297.5,421.5 301.5,417.5 305.5,411.5 309.5,408.5 311.5,408.5 314.5,414.5 317.5,424.5 321.5,440.5 325.5,453.5 329.5,442.5 333.5,426.5 337.5,413.5 341.5,413.5 345.5,408.5 349.5,404.5 351.5,404.5 354.5,408.5 357.5,422.5 360.5,442.5 363.5,464.5 366.5,476.5 369.5,478.5 373.5,478.5 377.5,475.5 381.5,474.5 384.5,471.5 388.5,462.5 392.5,452.5 395.5,438.5 398.5,422.5 401.5,407.5 404.5,409.5 406.5,413.5 409.5,426.5 412.5,442.5 415.5,456.5 418.5,468.5 421.5,474.5 425.5,468.5 429.5,462.5 433.5,450.5 437.5,438.5 441.5,426.5 445.5,426.5 449.5,432.5 453.5,437.5 457.5,433.5 461.5,432.5 465.5,450.5 469.5,458.5 473.5,455.5 477.5,445.5 481.5,444.5 485.5,462.5 489.5,466.5 493.5,470.5 497.5,462.5 501.5,450.5 505.5,438.5 509.5,425.5 513.5,424.5 517.5,416.5 521.5,416.5 525.5,423.5 529.5,442.5 533.5,456.5 537.5,456.5 541.5,446.5 545.5,420.5 549.5,411.5 553.5,410.5 556.5,414.5 560.5,426.5 564.5,443.5 568.5,453.5 573.5,459.5 577.5,452.5 581.5,446.5 583.5,438.5 585.5,428.5" fill="none" stroke="#0000ff" stroke-width="2" stroke-linejoin="round"/>
<polygon points="1,476 1,481 6,481" fill="#c0c0c0"/><rect x="656" y="9" width="41" height="11" fill="#ff0000"/><rect x="656" y="35" width="41" height="11" fill="#ff0000"/><rect x="656" y="76" width="41" height="11" fill="#ff0000"/><rect x="656" y="118" width="41" height="11" fill="#ff0000"/><rect x="656" y="159" width="41" height="11" fill="#ff0000"/><rect x="656" y="200" width="41" height="11" fill="#ff0000"/><rect x="656" y="241" width="41" height="11" fill="#ff0000"/><rect x="656" y="283" width="41" height="11" fill="#ff0000"/><rect x="655" y="161" width="42" height="12" fill="#000"/><rect x="656" y="159" width="41" height="11" fill="#ff0000"/></g>
<g><text x="660" y="10.6" textLength="32" lengthAdjust="spacingAndGlyphs" >148.830</text><text x="660" y="43.6" textLength="32" lengthAdjust="spacingAndGlyphs" >148.030</text><text x="660" y="76.6" textLength="32" lengthAdjust="spacingAndGlyphs" >147.230</text><text x="660" y="109.6" textLength="32" lengthAdjust="spacingAndGlyphs" >146.430</text><text x="660" y="142.6" textLength="32" lengthAdjust="spacingAndGlyphs" >145.630</text><text x="660" y="175.6" textLength="32" lengthAdjust="spacingAndGlyphs" >144.830</text><text x="660" y="208.6" textLength="32" lengthAdjust="spacingAndGlyphs" >144.030</text><text x="660" y="241.6" textLength="32" lengthAdjust="spacingAndGlyphs" >143.230</text><text x="660" y="274.6" textLength="32" lengthAdjust="spacingAndGlyphs" >142.430</text><text x="660" y="307.6" textLength="32" lengthAdjust="spacingAndGlyphs" >141.630</text></g>
<g shape-rendering="crispEdges"><rect x="655" y="161" width="42" height="12" fill="#000"/><rect x="656" y="9" width="41" height="11" fill="#ff0000"/><rect x="656" y="35" width="41" height="11" fill="#ff0000"/><rect x="656" y="76" width="41" height="11" fill="#ff0000"/><rect x="656" y="118" width="41" height="11" fill="#ff0000"/><rect x="656" y="159" width="41" height="11" fill="#ff0000"/><rect x="656" y="200" width="41" height="11" fill="#ff0000"/><rect x="656" y="241" width="41" height="11" fill="#ff0000"/><rect x="656" y="283" width="41" height="11" fill="#ff0000"/></g>
<text x="660.5" y="18.4" class="w" textLength="32" lengthAdjust="spacingAndGlyphs" >148.644</text><text x="660.5" y="44.4" class="w" textLength="32" lengthAdjust="spacingAndGlyphs" >148.000</text><text x="660.5" y="85.4" class="w" textLength="32" lengthAdjust="spacingAndGlyphs" >147.000</text><text x="660.5" y="127.4" class="w" textLength="32" lengthAdjust="spacingAndGlyphs" >146.000</text><text x="660.5" y="168.4" class="w" textLength="32" lengthAdjust="spacingAndGlyphs" >145.000</text><text x="660.5" y="209.4" class="w" textLength="32" lengthAdjust="spacingAndGlyphs" >144.000</text><text x="660.5" y="250.4" class="w" textLength="32" lengthAdjust="spacingAndGlyphs" >143.000</text><text x="660.5" y="292.4" class="w" textLength="32" lengthAdjust="spacingAndGlyphs" >142.000</text>
<polygon points="4,7 11,7 7.5,11" fill="#000"/><text x="16.5" y="12" textLength="50" lengthAdjust="spacingAndGlyphs" style="font-size:9.6px;stroke-width:0.1px">USDJPY,H4</text><text x="658.5" y="319.8" textLength="27.3" lengthAdjust="spacingAndGlyphs" >1.6094</text><text x="658.5" y="362.6" textLength="17" lengthAdjust="spacingAndGlyphs" >0.00</text><text x="658.5" y="390.7" textLength="30.2" lengthAdjust="spacingAndGlyphs" >-1.1184</text><text x="658.5" y="406.5" textLength="14.4" lengthAdjust="spacingAndGlyphs" >100</text><text x="657.3" y="417.7" textLength="10" lengthAdjust="spacingAndGlyphs" >80</text><text x="657.3" y="467.7" textLength="10" lengthAdjust="spacingAndGlyphs" >20</text><text x="658" y="477.8" textLength="5.2" lengthAdjust="spacingAndGlyphs" >0</text><text x="1.3" y="494" textLength="43" lengthAdjust="spacingAndGlyphs" >2 Jun 2025</text><text x="64.8" y="494" textLength="47" lengthAdjust="spacingAndGlyphs" >5 Jun 12:00</text><text x="128.8" y="494" textLength="52" lengthAdjust="spacingAndGlyphs" >10 Jun 04:00</text><text x="192.8" y="494" textLength="52" lengthAdjust="spacingAndGlyphs" >12 Jun 20:00</text><text x="256.8" y="494" textLength="52" lengthAdjust="spacingAndGlyphs" >17 Jun 12:00</text><text x="320.8" y="494" textLength="52" lengthAdjust="spacingAndGlyphs" >20 Jun 04:00</text><text x="384.8" y="494" textLength="52" lengthAdjust="spacingAndGlyphs" >24 Jun 20:00</text><text x="448.8" y="494" textLength="52" lengthAdjust="spacingAndGlyphs" >27 Jun 12:00</text><text x="512.8" y="494" textLength="43.5" lengthAdjust="spacingAndGlyphs" >2 Jul 04:00</text><text x="576.8" y="494" textLength="45" lengthAdjust="spacingAndGlyphs" >4 Jul 20:00</text>
<g fill="none" stroke="#2f7a3e" stroke-width="3.8" stroke-linejoin="miter"><path d="M641.5 162 L620.5 162 L631.5 142.5" stroke-linecap="round" stroke-linejoin="round"/><path d="M620 143.5 L631 138.5 L635 148.5"/><path d="M623 136 L633.5 130.8 L638 141"/></g><g fill="none" stroke="#a0401e" stroke-width="3.8" stroke-linejoin="miter"><path d="M614.3 178.5 L618.2 169 L631.5 193.5" stroke-linecap="round" stroke-linejoin="round"/><path d="M620.8 191 L631.8 194.8 L634.6 185"/><path d="M624.2 198.5 L634.8 202.6 L637.8 192.5"/></g><text x="601.6" y="182.2" style="font-size:19px;fill:#a0401e;stroke:#a0401e;stroke-width:0.9px">?</text>
</svg>
</body></html>
